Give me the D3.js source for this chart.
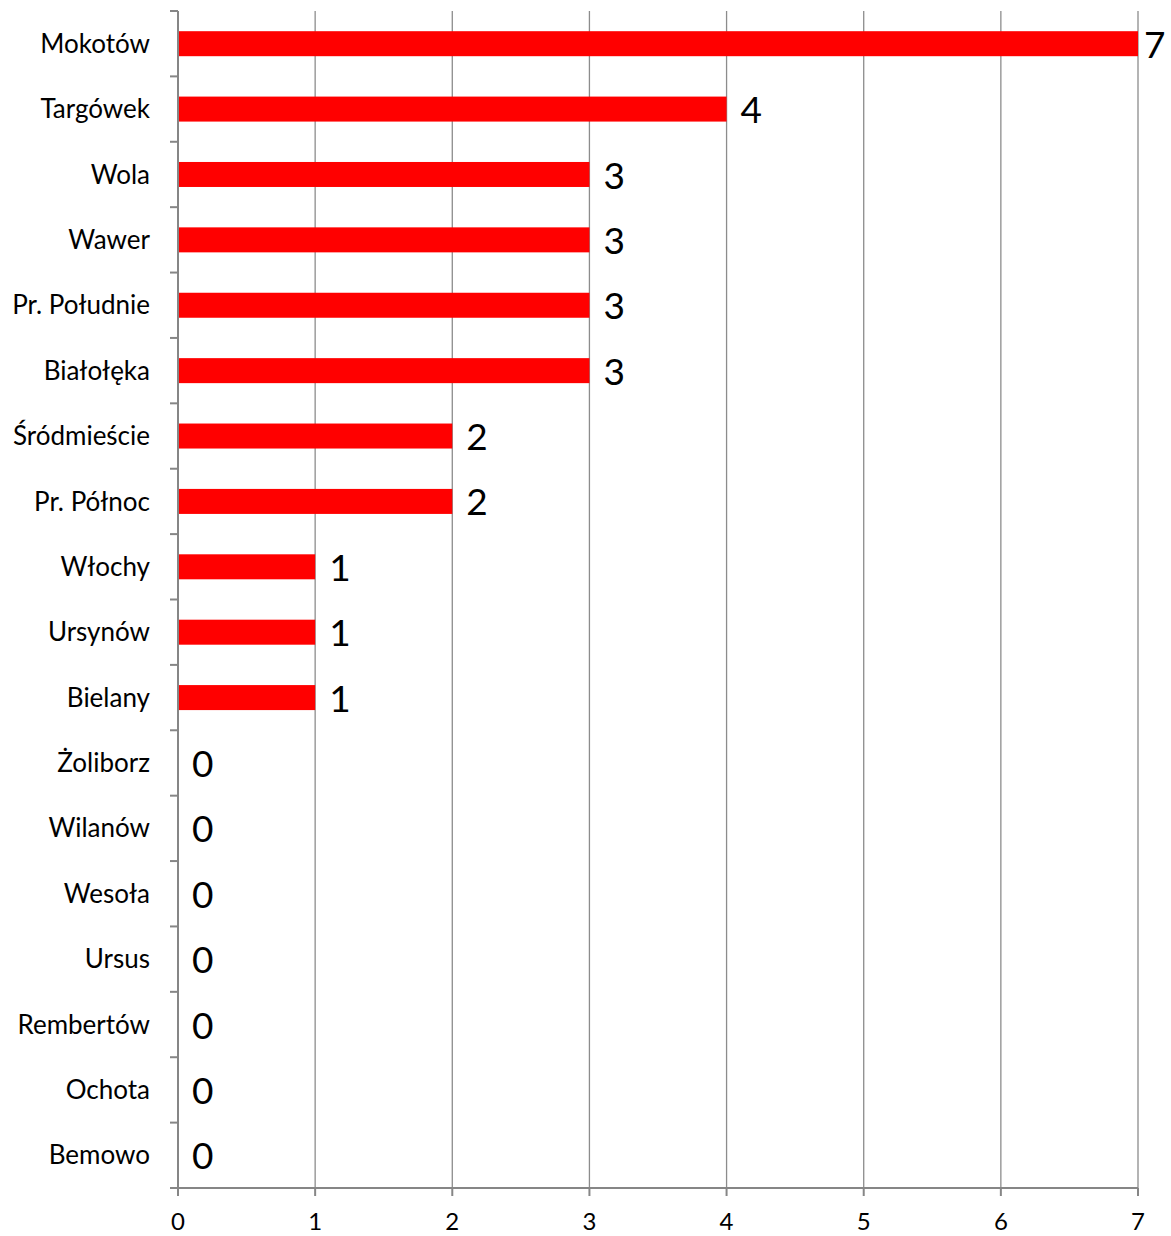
<!DOCTYPE html>
<html><head><meta charset="utf-8">
<script src="https://cdn.jsdelivr.net/npm/d3@7"></script>
<style>body{margin:0;background:#fff;} svg{display:block;} text{font-family:Lato,"Open Sans",sans-serif;}</style>
</head><body>
<svg id="c" width="1171" height="1236"></svg>
<script>
const categories = ["Mokotów","Targówek","Wola","Wawer","Pr. Południe","Białołęka","Śródmieście","Pr. Północ","Włochy","Ursynów","Bielany","Żoliborz","Wilanów","Wesoła","Ursus","Rembertów","Ochota","Bemowo"];
const values = [7,4,3,3,3,3,2,2,1,1,1,0,0,0,0,0,0,0];
const xTicks = [0,1,2,3,4,5,6,7];

const svg = d3.select("#c");
const x = d3.scaleLinear().domain([0,7]).range([178,1138]);
const band = d3.scaleBand().domain(categories).range([11,1188]);

// gridlines
svg.append("g").selectAll("line").data(xTicks.slice(1)).join("line")
  .attr("x1",d=>x(d)).attr("x2",d=>x(d)).attr("y1",11).attr("y2",1188)
  .attr("stroke","#8c8c8c").attr("stroke-width",1.3);

// bars
svg.append("g").selectAll("rect").data(categories).join("rect")
  .attr("x",x(0)).attr("y",d=>band(d)+band.bandwidth()/2-12.5)
  .attr("width",(d,i)=>x(values[i])-x(0)).attr("height",25)
  .attr("fill","#ff0000");

// y axis
const yAxisG = svg.append("g");
yAxisG.append("line").attr("x1",178).attr("x2",178).attr("y1",11).attr("y2",1188).attr("stroke","#868686").attr("stroke-width",2);
const yTickPos = categories.map(c=>band(c)).concat([1188]);
yAxisG.selectAll("line.t").data(yTickPos).join("line").attr("class","t")
  .attr("x1",170).attr("x2",178).attr("y1",d=>d).attr("y2",d=>d).attr("stroke","#868686").attr("stroke-width",2);
yAxisG.selectAll("text").data(categories).join("text")
  .attr("x",150).attr("y",d=>band(d)+band.bandwidth()/2).attr("dy","0.35em")
  .attr("text-anchor","end").attr("font-size",26).attr("fill","#000").text(d=>d);

// x axis
const xAxisG = svg.append("g");
xAxisG.append("line").attr("x1",170).attr("x2",1138).attr("y1",1188).attr("y2",1188).attr("stroke","#868686").attr("stroke-width",2);
xAxisG.selectAll("line.t").data(xTicks).join("line").attr("class","t")
  .attr("x1",d=>x(d)).attr("x2",d=>x(d)).attr("y1",1188).attr("y2",1196).attr("stroke","#868686").attr("stroke-width",2);
xAxisG.selectAll("text").data(xTicks).join("text")
  .attr("x",d=>x(d)).attr("y",1230).attr("text-anchor","middle").attr("font-size",24).attr("fill","#000").text(d=>d);

// data labels
svg.append("g").selectAll("text").data(categories).join("text")
  .attr("x",(d,i)=>x(values[i])+ (values[i]===7?6:14)).attr("y",d=>band(d)+band.bandwidth()/2).attr("dy","0.38em")
  .attr("font-size",37).attr("fill","#000").text((d,i)=>values[i]);
</script>
</body></html>
